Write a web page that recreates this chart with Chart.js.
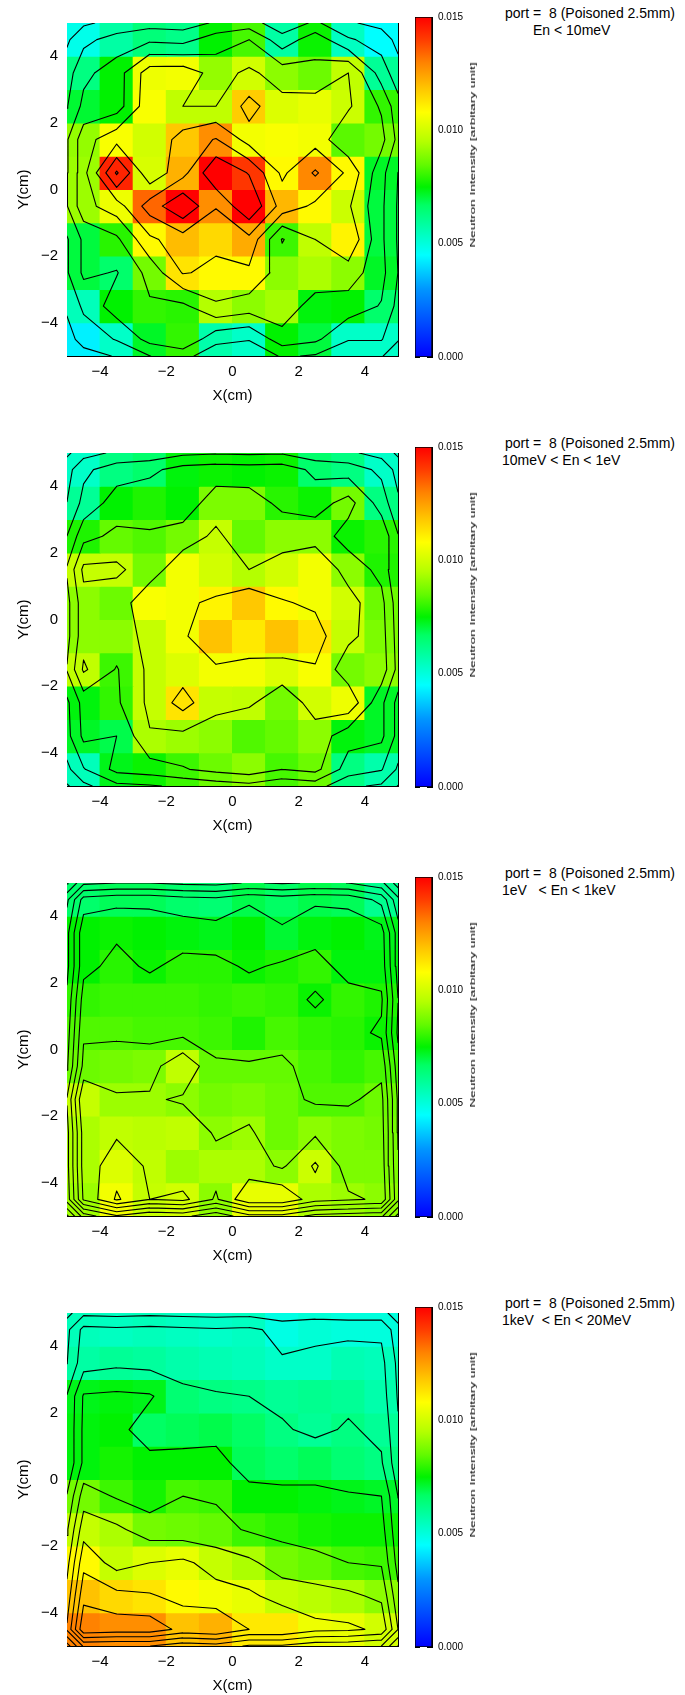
<!DOCTYPE html>
<html>
<head>
<meta charset="utf-8">
<title>Neutron intensity maps</title>
<script src="https://cdn.jsdelivr.net/npm/chart.js@4.4.1/dist/chart.umd.min.js"></script>
<style>
  html, body { margin:0; padding:0; background:#fff; }
  body { position:relative; width:685px; height:1695px; overflow:hidden;
         font-family:"Liberation Sans", Arial, Helvetica, sans-serif; color:#000; }
  canvas { position:absolute; }
  .note { position:absolute; font-size:14px; line-height:16px; white-space:pre; }
  .ztitle { position:absolute; font-size:8px; line-height:10px; white-space:nowrap;
            transform-origin:0 0; }
</style>
</head>
<body>
<script>
// ---------------- data ----------------
const xCenters = [-4.5, -3.5, -2.5, -1.5, -0.5, 0.5, 1.5, 2.5, 3.5, 4.5];
const yCenters = [4.5, 3.5, 2.5, 1.5, 0.5, -0.5, -1.5, -2.5, -3.5, -4.5]; // rows, top to bottom
const axisTicks = [-5, -4, -3, -2, -1, 0, 1, 2, 3, 4, 5];
const axisLabels = [-4, -2, 0, 2, 4];
const colorbarTicks = [0, 0.001, 0.002, 0.003, 0.004, 0.005, 0.006, 0.007, 0.008,
                       0.009, 0.010, 0.011, 0.012, 0.013, 0.014, 0.015];
const colorbarLabels = [0.000, 0.005, 0.010, 0.015];
const titleLine = 'port =  8 (Poisoned 2.5mm)';
const energyBins = ['En < 10meV', '10meV < En < 1eV', '1eV   < En < 1keV', '1keV  < En < 20MeV'];

// intensity per cell, rows from y=4.5 (top) to y=-4.5 (bottom), columns x=-4.5..4.5
const intensityThermal = [
  [0.0048, 0.0058, 0.0064, 0.0062, 0.0075, 0.0082, 0.0058, 0.0076, 0.0054, 0.0045],
  [0.0063, 0.0075, 0.0105, 0.0106, 0.0091, 0.0100, 0.0090, 0.0086, 0.0097, 0.0060],
  [0.0071, 0.0075, 0.0107, 0.0097, 0.0097, 0.0117, 0.0102, 0.0104, 0.0099, 0.0080],
  [0.0091, 0.0107, 0.0100, 0.0118, 0.0128, 0.0106, 0.0107, 0.0106, 0.0084, 0.0087],
  [0.0092, 0.0144, 0.0101, 0.0122, 0.0155, 0.0141, 0.0109, 0.0129, 0.0109, 0.0072],
  [0.0092, 0.0105, 0.0134, 0.0155, 0.0128, 0.0155, 0.0121, 0.0109, 0.0099, 0.0070],
  [0.0070, 0.0079, 0.0109, 0.0120, 0.0115, 0.0123, 0.0081, 0.0097, 0.0110, 0.0070],
  [0.0070, 0.0066, 0.0087, 0.0113, 0.0109, 0.0109, 0.0090, 0.0094, 0.0090, 0.0072],
  [0.0055, 0.0075, 0.0080, 0.0079, 0.0095, 0.0090, 0.0093, 0.0074, 0.0075, 0.0066],
  [0.0043, 0.0053, 0.0072, 0.0080, 0.0057, 0.0053, 0.0075, 0.0070, 0.0053, 0.0053]
];
const intensityEpithermal = [
  [0.0053, 0.0063, 0.0066, 0.0074, 0.0076, 0.0075, 0.0076, 0.0066, 0.0063, 0.0053],
  [0.0060, 0.0075, 0.0078, 0.0075, 0.0088, 0.0088, 0.0079, 0.0076, 0.0087, 0.0063],
  [0.0078, 0.0085, 0.0083, 0.0087, 0.0098, 0.0085, 0.0090, 0.0090, 0.0076, 0.0079],
  [0.0098, 0.0098, 0.0087, 0.0106, 0.0100, 0.0095, 0.0100, 0.0106, 0.0090, 0.0078],
  [0.0090, 0.0086, 0.0107, 0.0106, 0.0110, 0.0118, 0.0109, 0.0106, 0.0100, 0.0086],
  [0.0090, 0.0090, 0.0098, 0.0106, 0.0119, 0.0112, 0.0119, 0.0113, 0.0098, 0.0088],
  [0.0097, 0.0081, 0.0098, 0.0102, 0.0106, 0.0106, 0.0102, 0.0107, 0.0087, 0.0090],
  [0.0074, 0.0080, 0.0098, 0.0113, 0.0098, 0.0097, 0.0087, 0.0100, 0.0105, 0.0072],
  [0.0072, 0.0069, 0.0094, 0.0092, 0.0090, 0.0083, 0.0085, 0.0090, 0.0074, 0.0072],
  [0.0055, 0.0073, 0.0076, 0.0081, 0.0086, 0.0090, 0.0082, 0.0086, 0.0063, 0.0057]
];
const intensityResonance = [
  [0.0066, 0.0068, 0.0068, 0.0066, 0.0065, 0.0069, 0.0067, 0.0069, 0.0068, 0.0061],
  [0.0075, 0.0076, 0.0075, 0.0074, 0.0073, 0.0075, 0.0071, 0.0074, 0.0075, 0.0073],
  [0.0075, 0.0079, 0.0076, 0.0079, 0.0079, 0.0076, 0.0078, 0.0080, 0.0074, 0.0074],
  [0.0080, 0.0081, 0.0081, 0.0081, 0.0080, 0.0081, 0.0080, 0.0076, 0.0080, 0.0078],
  [0.0083, 0.0083, 0.0082, 0.0082, 0.0081, 0.0078, 0.0082, 0.0080, 0.0079, 0.0076],
  [0.0086, 0.0087, 0.0088, 0.0097, 0.0085, 0.0085, 0.0085, 0.0082, 0.0080, 0.0082],
  [0.0098, 0.0092, 0.0092, 0.0090, 0.0087, 0.0088, 0.0086, 0.0083, 0.0083, 0.0086],
  [0.0094, 0.0097, 0.0096, 0.0097, 0.0090, 0.0092, 0.0086, 0.0090, 0.0088, 0.0087],
  [0.0094, 0.0102, 0.0097, 0.0092, 0.0094, 0.0094, 0.0090, 0.0099, 0.0088, 0.0088],
  [0.0092, 0.0106, 0.0098, 0.0100, 0.0090, 0.0104, 0.0104, 0.0094, 0.0092, 0.0090]
];
const intensityFast = [
  [0.0055, 0.0054, 0.0055, 0.0054, 0.0053, 0.0054, 0.0049, 0.0051, 0.0050, 0.0050],
  [0.0058, 0.0060, 0.0059, 0.0057, 0.0056, 0.0055, 0.0053, 0.0053, 0.0056, 0.0055],
  [0.0073, 0.0074, 0.0073, 0.0065, 0.0063, 0.0062, 0.0060, 0.0061, 0.0060, 0.0057],
  [0.0074, 0.0075, 0.0067, 0.0068, 0.0069, 0.0067, 0.0063, 0.0060, 0.0063, 0.0060],
  [0.0074, 0.0077, 0.0075, 0.0075, 0.0075, 0.0068, 0.0066, 0.0068, 0.0065, 0.0063],
  [0.0087, 0.0081, 0.0077, 0.0082, 0.0081, 0.0075, 0.0075, 0.0074, 0.0073, 0.0072],
  [0.0098, 0.0094, 0.0087, 0.0086, 0.0085, 0.0081, 0.0079, 0.0077, 0.0076, 0.0076],
  [0.0109, 0.0098, 0.0102, 0.0104, 0.0098, 0.0094, 0.0087, 0.0085, 0.0082, 0.0081],
  [0.0119, 0.0115, 0.0113, 0.0109, 0.0106, 0.0104, 0.0098, 0.0096, 0.0094, 0.0090],
  [0.0130, 0.0128, 0.0128, 0.0119, 0.0122, 0.0112, 0.0112, 0.0105, 0.0104, 0.0100]
];
// contour levels (base + k*step)
const contourBase = [0.0022, 0.0004, 0.0000, 0.0002];
const contourStep = [0.0015, 0.0013, 0.0007, 0.0010];

// ---------------- style ----------------
const FONT = '"Liberation Sans", Arial, Helvetica, sans-serif';
const EDGE = 0.72; // boundary fall-off used for the contour mesh
const PANEL_PITCH = 430;
const cmap = [
  [0.0000, [0, 0, 255]], [0.0030, [0, 150, 255]], [0.0045, [0, 255, 255]],
  [0.0053, [0, 255, 200]], [0.0060, [0, 255, 150]], [0.0067, [0, 255, 100]],
  [0.0075, [0, 242, 0]], [0.0085, [100, 250, 0]], [0.0095, [180, 255, 0]],
  [0.0108, [255, 255, 0]], [0.0118, [255, 200, 0]], [0.0130, [255, 130, 0]],
  [0.0140, [255, 60, 0]], [0.0150, [255, 0, 0]]
];
function colorOf(v) {
  if (v <= cmap[0][0]) return 'rgb(' + cmap[0][1].join(',') + ')';
  for (let i = 1; i < cmap.length; i++) {
    if (v <= cmap[i][0]) {
      const [v0, c0] = cmap[i - 1], [v1, c1] = cmap[i];
      const t = (v - v0) / (v1 - v0);
      return 'rgb(' + c0.map((c, k) => Math.round(c + (c1[k] - c) * t)).join(',') + ')';
    }
  }
  return 'rgb(' + cmap[cmap.length - 1][1].join(',') + ')';
}
const fmtAxis = v => (v < 0 ? '\u2212' + Math.abs(v) : String(v));

// ---------------- contour computation (marching squares) ----------------
const nodeX = [-5, ...xCenters, 5];
const nodeY = [-5, ...yCenters.slice().reverse(), 5];
function nodeGrid(grid) {
  const nx = nodeX.length, ny = nodeY.length;
  return nodeY.map((y, j) => nodeX.map((x, i) => {
    const col = Math.min(Math.max(i - 1, 0), 9);
    const row = 9 - Math.min(Math.max(j - 1, 0), 9);
    const fx = (i === 0 || i === nx - 1) ? EDGE : 1;
    const fy = (j === 0 || j === ny - 1) ? EDGE : 1;
    return grid[row][col] * fx * fy;
  }));
}
function marching(V, level) {
  const segs = [];
  const lerp = (a, b, va, vb) => a + (level - va) / (vb - va) * (b - a);
  for (let j = 0; j < nodeY.length - 1; j++) {
    for (let i = 0; i < nodeX.length - 1; i++) {
      const v0 = V[j][i], v1 = V[j][i + 1], v2 = V[j + 1][i + 1], v3 = V[j + 1][i];
      const idx = (v0 > level ? 1 : 0) | (v1 > level ? 2 : 0) | (v2 > level ? 4 : 0) | (v3 > level ? 8 : 0);
      if (idx === 0 || idx === 15) continue;
      const x0 = nodeX[i], x1 = nodeX[i + 1], y0 = nodeY[j], y1 = nodeY[j + 1];
      const B = () => ({x: lerp(x0, x1, v0, v1), y: y0});
      const R = () => ({x: x1, y: lerp(y0, y1, v1, v2)});
      const T = () => ({x: lerp(x0, x1, v3, v2), y: y1});
      const L = () => ({x: x0, y: lerp(y0, y1, v0, v3)});
      const mid = (v0 + v1 + v2 + v3) / 4;
      switch (idx) {
        case 1: case 14: segs.push([L(), B()]); break;
        case 2: case 13: segs.push([B(), R()]); break;
        case 3: case 12: segs.push([L(), R()]); break;
        case 4: case 11: segs.push([R(), T()]); break;
        case 6: case 9: segs.push([B(), T()]); break;
        case 7: case 8: segs.push([L(), T()]); break;
        case 5:
          if (mid > level) { segs.push([L(), T()]); segs.push([B(), R()]); }
          else { segs.push([L(), B()]); segs.push([R(), T()]); }
          break;
        case 10:
          if (mid > level) { segs.push([L(), B()]); segs.push([R(), T()]); }
          else { segs.push([L(), T()]); segs.push([B(), R()]); }
          break;
      }
    }
  }
  return segs;
}
function contourPoints(grid, base, step) {
  const V = nodeGrid(grid);
  const pts = [];
  for (let k = 1; ; k++) {
    const level = base + k * step;
    if (level > 0.0165) break;
    for (const [a, b] of marching(V, level)) pts.push(a, b, {x: b.x, y: null});
  }
  return pts;
}

// ---------------- charts ----------------
const gridOpts = {drawOnChartArea: false, drawTicks: true, tickLength: -5, color: '#000', lineWidth: 1, offset: false};
const borderOpts = {display: true, color: '#000', width: 1};
const tickFont = {family: FONT, size: 15};
const setTicks = arr => s => { s.ticks = arr.map(v => ({value: v})); };

const panels = [
  {grid: intensityThermal,    label: energyBins[0], labelX: 533},
  {grid: intensityEpithermal, label: energyBins[1], labelX: 502},
  {grid: intensityResonance,  label: energyBins[2], labelX: 502},
  {grid: intensityFast,       label: energyBins[3], labelX: 502}
];

panels.forEach((p, idx) => {
  const top = idx * PANEL_PITCH;

  // ---- heat map + contours ----
  const cv = document.createElement('canvas');
  cv.width = 410; cv.height = 416;
  cv.style.left = '0px'; cv.style.top = top + 'px';
  document.body.appendChild(cv);

  const datasets = yCenters.map((yc, r) => ({
    type: 'bar',
    data: xCenters.map(xc => ({x: xc, y: [yc - 0.5, yc + 0.5]})),
    backgroundColor: p.grid[r].map(colorOf),
    borderWidth: 0,
    base: -100,
    inflateAmount: 0.5,
    grouped: false,
    barPercentage: 1,
    categoryPercentage: 1,
    order: 2
  }));
  datasets.push({
    type: 'line',
    data: contourPoints(p.grid, contourBase[idx], contourStep[idx]),
    borderColor: '#000',
    borderWidth: 1.1,
    pointRadius: 0,
    tension: 0,
    fill: false,
    spanGaps: false,
    borderCapStyle: 'round',
    borderJoinStyle: 'round',
    order: 0
  });

  new Chart(cv, {
    type: 'bar',
    data: {datasets},
    options: {
      responsive: false, animation: false, events: [],
      layout: {padding: 0},
      plugins: {legend: {display: false}, tooltip: {enabled: false}},
      scales: {
        x: {
          type: 'linear', position: 'bottom', min: -5, max: 5, offset: false, z: 1,
          grid: gridOpts, border: borderOpts,
          afterBuildTicks: setTicks(axisTicks),
          ticks: {autoSkip: false, maxRotation: 0, padding: 12, color: '#000', font: tickFont,
                  callback: v => axisLabels.includes(v) ? fmtAxis(v) : ''},
          title: {display: true, text: 'X(cm)', color: '#000', font: tickFont, padding: {top: 0, bottom: 11}},
          afterFit: s => { s.height = 60; }
        },
        x2: {
          type: 'linear', position: 'top', min: -5, max: 5, offset: false, z: 1,
          grid: gridOpts, border: borderOpts,
          afterBuildTicks: setTicks(axisTicks),
          ticks: {display: false, autoSkip: false},
          afterFit: s => { s.height = 16; }
        },
        y: {
          type: 'linear', position: 'left', min: -5, max: 5, z: 1,
          grid: gridOpts, border: borderOpts,
          afterBuildTicks: setTicks(axisTicks),
          ticks: {autoSkip: false, padding: 14, color: '#000', font: tickFont,
                  callback: v => axisLabels.includes(v) ? fmtAxis(v) : ''},
          title: {display: true, text: 'Y(cm)', color: '#000', font: tickFont, padding: {top: 15, bottom: 0}},
          afterFit: s => { s.width = 67; }
        },
        y2: {
          type: 'linear', position: 'right', min: -5, max: 5, z: 1,
          grid: gridOpts, border: borderOpts,
          afterBuildTicks: setTicks(axisTicks),
          ticks: {display: false, autoSkip: false},
          afterFit: s => { s.width = 4; }
        }
      }
    }
  });

  // ---- colour bar ----
  const cb = document.createElement('canvas');
  cb.width = 80; cb.height = 416;
  cb.style.left = '400px'; cb.style.top = top + 'px';
  document.body.appendChild(cb);
  const cbMax = colorbarTicks[colorbarTicks.length - 1];
  new Chart(cb, {
    type: 'bar',
    data: {
      labels: [''],
      datasets: [{
        data: [[colorbarTicks[0], cbMax]],
        backgroundColor: ctx => {
          const chart = ctx.chart;
          if (!chart.chartArea) return '#00f';
          const ys = chart.scales.y;
          const y0 = ys.getPixelForValue(0), y1 = ys.getPixelForValue(cbMax);
          const g = chart.ctx.createLinearGradient(0, y0, 0, y1);
          cmap.forEach(([v, c]) => g.addColorStop(Math.min(v / cbMax, 1), 'rgb(' + c.join(',') + ')'));
          return g;
        },
        borderColor: '#000', borderWidth: 1, borderSkipped: false,
        base: -1,
        barPercentage: 1, categoryPercentage: 1
      }]
    },
    options: {
      responsive: false, animation: false, events: [],
      layout: {padding: {top: 17, bottom: 59, left: 0, right: 0}},
      plugins: {legend: {display: false}, tooltip: {enabled: false}},
      scales: {
        x: {display: false},
        yl: {
          type: 'linear', position: 'left', min: 0, max: cbMax, z: 1,
          grid: {drawOnChartArea: false, drawTicks: true, tickLength: -5, color: '#000'},
          border: borderOpts,
          afterBuildTicks: setTicks(colorbarTicks),
          ticks: {display: false, autoSkip: false},
          afterFit: s => { s.width = 15; }
        },
        y: {
          type: 'linear', position: 'right', min: 0, max: cbMax, z: 1,
          grid: {drawOnChartArea: false, drawTicks: true, tickLength: -5, color: '#000'},
          border: borderOpts,
          afterBuildTicks: setTicks(colorbarTicks),
          ticks: {autoSkip: false, padding: 11, color: '#000', font: {family: FONT, size: 10},
                  callback: v => colorbarLabels.some(l => Math.abs(l - v) < 1e-9) ? v.toFixed(3) : ''},
          afterFit: s => { s.width = 48; }
        }
      }
    }
  });

  // ---- texts ----
  const t1 = document.createElement('div');
  t1.className = 'note'; t1.textContent = titleLine;
  t1.style.left = '505px'; t1.style.top = (top + 5) + 'px';
  document.body.appendChild(t1);
  const t2 = document.createElement('div');
  t2.className = 'note'; t2.textContent = p.label;
  t2.style.left = p.labelX + 'px'; t2.style.top = (top + 22) + 'px';
  document.body.appendChild(t2);
  const zt = document.createElement('div');
  zt.className = 'ztitle'; zt.textContent = 'Neutron Intensity [arbitary unit]';
  zt.style.left = '473px'; zt.style.top = (top + 155) + 'px';
  zt.style.transform = 'rotate(-90deg) scaleX(1.7) translate(-50%, -50%)';
  document.body.appendChild(zt);
});
</script>
</body>
</html>
